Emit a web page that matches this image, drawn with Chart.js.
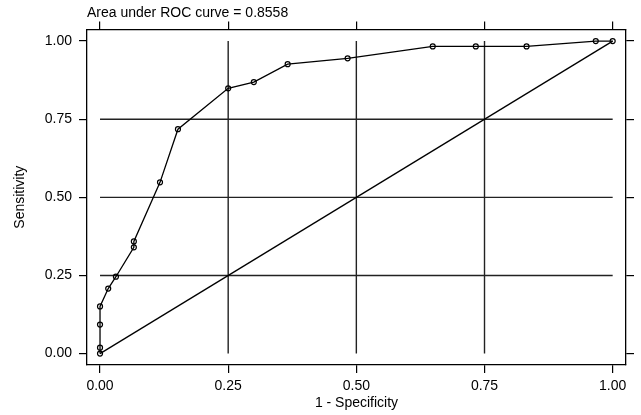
<!DOCTYPE html>
<html>
<head>
<meta charset="utf-8">
<script src="https://cdn.jsdelivr.net/npm/chart.js@4/dist/chart.umd.min.js"></script>
<style>
    html, body { margin: 0; padding: 0; background: #fff; }
    #roc-area { width: 641px; height: 415px; }
</style>
</head>
<body>
<div id="roc-area"><canvas id="roc"></canvas></div>
<script>
// values
var specificity1 = [0, 0, 0, 0, 0.016, 0.031, 0.066, 0.066, 0.117, 0.152, 0.25, 0.30, 0.366, 0.483, 0.649, 0.733, 0.832, 0.967, 1];
var sensitivity = [0, 0.019, 0.093, 0.151, 0.208, 0.246, 0.34, 0.359, 0.548, 0.718, 0.849, 0.869, 0.926, 0.945, 0.983, 0.983, 0.983, 1, 1];
var refLine = [0, 1];
var tickValues = [0, 0.25, 0.5, 0.75, 1];
var gridValues = [0.25, 0.5, 0.75];
var chartTitle = 'Area under ROC curve = 0.8558';

var fontFamily = '"Liberation Sans", Arial, Helvetica, sans-serif';

function makePoints(xs, ys) {
    var ret = [];
    for (var i = 0; i < xs.length; i++) {
        ret.push({ x: xs[i], y: ys[i] });
    }
    return ret;
}

function setTicks(scale) {
    scale.ticks = tickValues.map(function (v) { return { value: v }; });
}

function fixSize(prop, size) {
    return function (scale) { scale[prop] = size; };
}

// inner grid lines only run across the 0..1 range
var innerGrid = {
    id: 'innerGrid',
    beforeDatasetsDraw: function (chart) {
        var ctx = chart.ctx;
        var xs = chart.scales.x, ys = chart.scales.y;
        ctx.save();
        ctx.strokeStyle = '#222';
        ctx.lineWidth = 1.4;
        ctx.beginPath();
        for (var i = 0; i < gridValues.length; i++) {
            var py = ys.getPixelForValue(gridValues[i]);
            ctx.moveTo(xs.getPixelForValue(0), py);
            ctx.lineTo(xs.getPixelForValue(1), py);
            var px = xs.getPixelForValue(gridValues[i]);
            ctx.moveTo(px, ys.getPixelForValue(0));
            ctx.lineTo(px, ys.getPixelForValue(1));
        }
        ctx.stroke();
        ctx.restore();
    }
};

var edge = {
    grid: { display: true, drawOnChartArea: false, drawTicks: true, tickLength: 8, color: '#000', lineWidth: 1.2 },
    border: { display: true, color: '#000', width: 1.3 }
};

var ctx = document.getElementById('roc').getContext('2d');
var rocChart = new Chart(ctx, {
    type: 'scatter',
    data: {
        datasets: [{
            data: makePoints(specificity1, sensitivity),
            showLine: true,
            borderColor: '#000',
            borderWidth: 1.3,
            pointRadius: 2.5,
            pointBorderWidth: 1.2,
            pointBackgroundColor: 'rgba(0,0,0,0)',
            pointBorderColor: '#000'
        }, {
            data: makePoints(refLine, refLine),
            showLine: true,
            borderColor: '#000',
            borderWidth: 1.3,
            pointRadius: 0
        }]
    },
    options: {
        responsive: true,
        maintainAspectRatio: false,
        animation: false,
        layout: { padding: 0 },
        plugins: {
            legend: { display: false },
            tooltip: { enabled: false },
            title: {
                display: true,
                text: chartTitle,
                align: 'start',
                fullSize: false,
                color: '#000',
                font: { family: fontFamily, size: 14, weight: 'normal', lineHeight: 1.2 },
                padding: { top: 4.6, bottom: 0 }
            }
        },
        scales: {
            x: {
                type: 'linear', position: 'bottom', min: -0.0254, max: 1.026,
                afterBuildTicks: setTicks,
                afterFit: fixSize('height', 50),
                grid: edge.grid, border: edge.border,
                ticks: {
                    color: '#000', padding: 5, maxRotation: 0,
                    font: { family: fontFamily, size: 14 },
                    callback: function (v) { return v.toFixed(2); }
                },
                title: {
                    display: true, text: '1 - Specificity', color: '#000',
                    font: { family: fontFamily, size: 14, lineHeight: 1.2 },
                    padding: { top: 0, bottom: 3.6 }
                }
            },
            x2: {
                type: 'linear', position: 'top', min: -0.0254, max: 1.026,
                afterBuildTicks: setTicks,
                afterFit: fixSize('height', 8),
                grid: edge.grid, border: edge.border,
                ticks: { display: false }
            },
            y: {
                type: 'linear', position: 'left', min: -0.0365, max: 1.0374,
                afterBuildTicks: setTicks,
                afterFit: fixSize('width', 87),
                grid: edge.grid, border: edge.border,
                ticks: {
                    color: '#000', padding: 7,
                    font: { family: fontFamily, size: 14 },
                    callback: function (v) { return v.toFixed(2); }
                },
                title: {
                    display: true, text: 'Sensitivity', color: '#000',
                    font: { family: fontFamily, size: 14, lineHeight: 1.2 },
                    padding: { top: 11.6, bottom: 0 }
                }
            },
            y2: {
                type: 'linear', position: 'right', min: -0.0365, max: 1.0374,
                afterBuildTicks: setTicks,
                afterFit: fixSize('width', 15),
                grid: edge.grid, border: edge.border,
                ticks: { display: false }
            }
        }
    },
    plugins: [innerGrid]
});
</script>
</body>
</html>
